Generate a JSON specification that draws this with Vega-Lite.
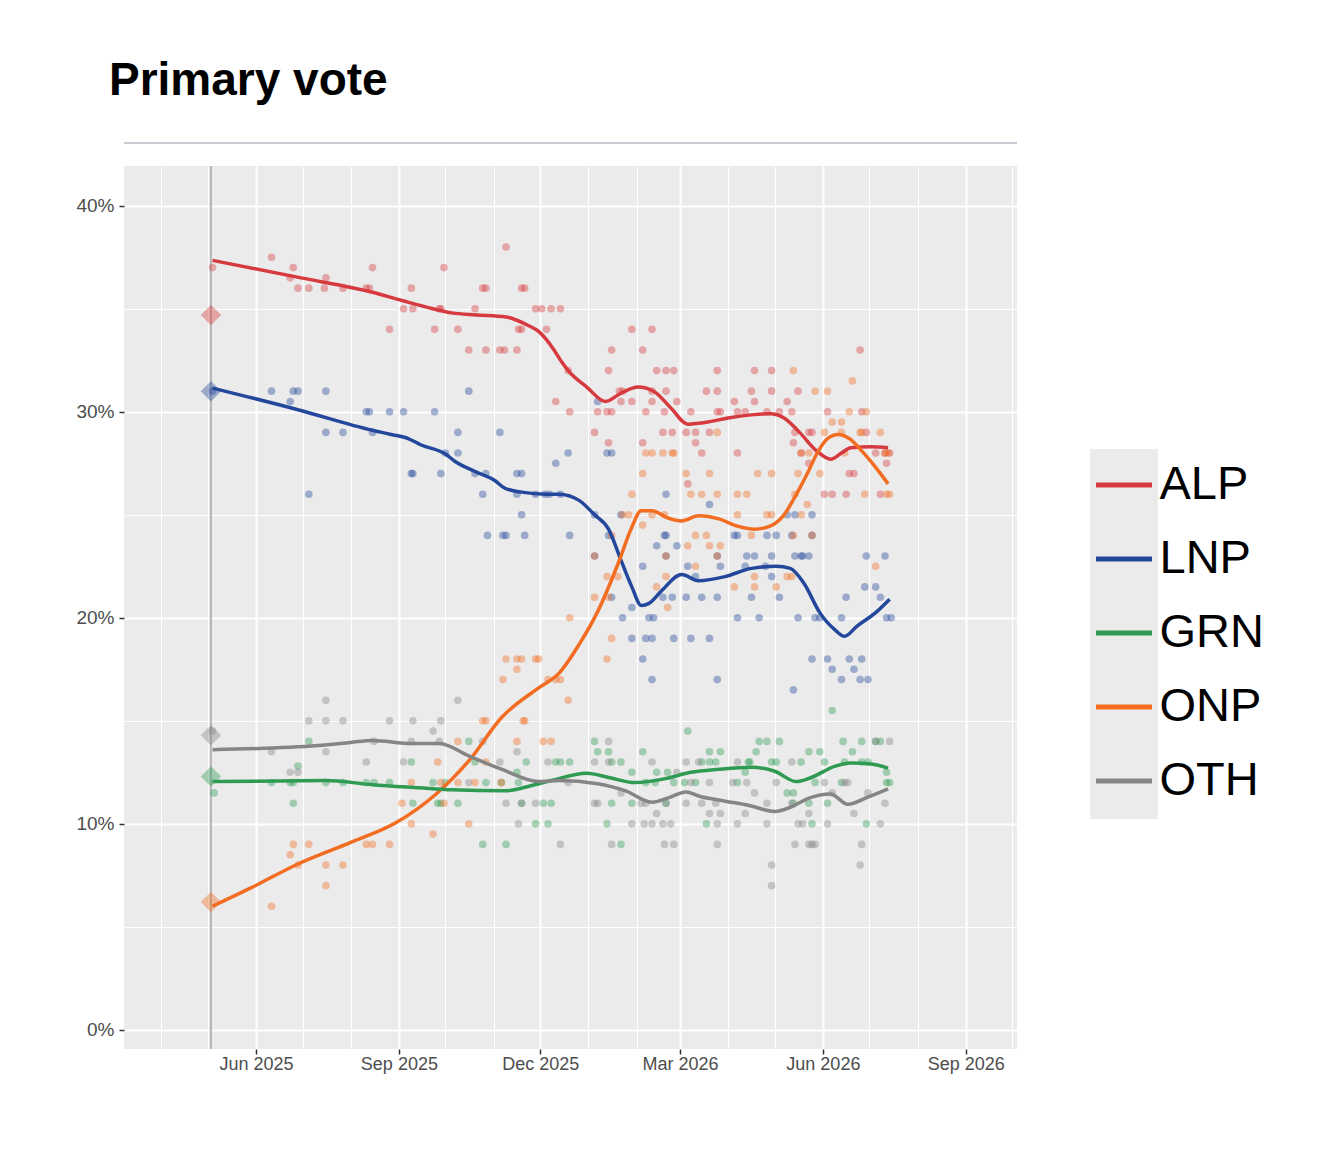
{
  "$schema": "https://vega.github.io/schema/vega-lite/v6.json",
  "padding": {"left": 75, "top": 58, "right": 10, "bottom": 10},
  "background": "#ffffff",
  "title": {"text": "Primary vote", "anchor": "start", "font": "Liberation Sans", "fontSize": 46, "fontWeight": "bold", "color": "#000000", "offset": 37, "dx": 33, "baseline": "top"},
  "spacing": 21,
  "align": "none",
  "datasets": {
    "polls": [
      {"date":"2025-05-04","party":"ALP","pct":37},{"date":"2025-06-11","party":"ALP","pct":37.5},{"date":"2025-06-25","party":"ALP","pct":37},{"date":"2025-06-23","party":"ALP","pct":36.5},{"date":"2025-06-28","party":"ALP","pct":36},{"date":"2025-07-05","party":"ALP","pct":36},{"date":"2025-07-16","party":"ALP","pct":36.5},{"date":"2025-07-15","party":"ALP","pct":36},{"date":"2025-07-27","party":"ALP","pct":36},{"date":"2025-08-11","party":"ALP","pct":36},{"date":"2025-08-13","party":"ALP","pct":36},{"date":"2025-08-15","party":"ALP","pct":37},{"date":"2025-08-26","party":"ALP","pct":34},{"date":"2025-09-04","party":"ALP","pct":35},{"date":"2025-09-09","party":"ALP","pct":36},{"date":"2025-09-10","party":"ALP","pct":35},{"date":"2025-09-24","party":"ALP","pct":34},{"date":"2025-09-27","party":"ALP","pct":35},{"date":"2025-09-28","party":"ALP","pct":35},{"date":"2025-09-30","party":"ALP","pct":37},{"date":"2025-10-09","party":"ALP","pct":34},{"date":"2025-10-16","party":"ALP","pct":33},{"date":"2025-10-20","party":"ALP","pct":35},{"date":"2025-10-25","party":"ALP","pct":36},{"date":"2025-10-27","party":"ALP","pct":36},{"date":"2025-10-27","party":"ALP","pct":33},{"date":"2025-11-05","party":"ALP","pct":33},{"date":"2025-11-08","party":"ALP","pct":33},{"date":"2025-11-09","party":"ALP","pct":38},{"date":"2025-11-16","party":"ALP","pct":33},{"date":"2025-11-17","party":"ALP","pct":34},{"date":"2025-11-19","party":"ALP","pct":34},{"date":"2025-11-19","party":"ALP","pct":36},{"date":"2025-11-21","party":"ALP","pct":36},{"date":"2025-11-28","party":"ALP","pct":35},{"date":"2025-12-02","party":"ALP","pct":35},{"date":"2025-12-08","party":"ALP","pct":35},{"date":"2025-12-14","party":"ALP","pct":35},{"date":"2025-12-05","party":"ALP","pct":34},{"date":"2025-12-11","party":"ALP","pct":30.5},{"date":"2025-12-19","party":"ALP","pct":32},{"date":"2025-12-20","party":"ALP","pct":30},
      {"date":"2026-01-29","party":"ALP","pct":34},{"date":"2026-02-11","party":"ALP","pct":34},{"date":"2026-01-16","party":"ALP","pct":33},{"date":"2026-02-05","party":"ALP","pct":33},
      {"date":"2026-01-14","party":"ALP","pct":32},{"date":"2026-02-14","party":"ALP","pct":32},{"date":"2026-02-20","party":"ALP","pct":32},{"date":"2026-02-25","party":"ALP","pct":32},{"date":"2026-03-25","party":"ALP","pct":32},{"date":"2026-04-18","party":"ALP","pct":32},{"date":"2026-04-29","party":"ALP","pct":32},{"date":"2026-06-25","party":"ALP","pct":33},
      {"date":"2026-01-21","party":"ALP","pct":31},{"date":"2026-01-23","party":"ALP","pct":31},{"date":"2026-02-11","party":"ALP","pct":31},{"date":"2026-02-20","party":"ALP","pct":31},{"date":"2026-03-18","party":"ALP","pct":31},{"date":"2026-03-25","party":"ALP","pct":31},{"date":"2026-04-16","party":"ALP","pct":31},{"date":"2026-04-29","party":"ALP","pct":31},{"date":"2026-05-16","party":"ALP","pct":31},
      {"date":"2026-01-22","party":"ALP","pct":30.5},{"date":"2026-01-29","party":"ALP","pct":30.5},{"date":"2026-02-11","party":"ALP","pct":30.5},{"date":"2026-02-27","party":"ALP","pct":30.5},{"date":"2026-04-05","party":"ALP","pct":30.5},{"date":"2026-04-18","party":"ALP","pct":30.5},{"date":"2026-05-09","party":"ALP","pct":30.5},
      {"date":"2026-01-07","party":"ALP","pct":30},{"date":"2026-01-13","party":"ALP","pct":30},{"date":"2026-01-16","party":"ALP","pct":30},{"date":"2026-02-07","party":"ALP","pct":30},{"date":"2026-02-19","party":"ALP","pct":30},{"date":"2026-03-08","party":"ALP","pct":30},{"date":"2026-03-25","party":"ALP","pct":30},{"date":"2026-03-27","party":"ALP","pct":30},{"date":"2026-04-07","party":"ALP","pct":30},{"date":"2026-04-12","party":"ALP","pct":30},{"date":"2026-04-26","party":"ALP","pct":30},{"date":"2026-05-04","party":"ALP","pct":30},{"date":"2026-05-12","party":"ALP","pct":30},{"date":"2026-06-04","party":"ALP","pct":30},{"date":"2026-06-26","party":"ALP","pct":30},
      {"date":"2026-01-05","party":"ALP","pct":29},{"date":"2026-02-18","party":"ALP","pct":29},{"date":"2026-02-24","party":"ALP","pct":29},{"date":"2026-03-05","party":"ALP","pct":29},{"date":"2026-03-11","party":"ALP","pct":29},{"date":"2026-03-20","party":"ALP","pct":29},{"date":"2026-05-14","party":"ALP","pct":29},{"date":"2026-05-23","party":"ALP","pct":29},{"date":"2026-05-25","party":"ALP","pct":29},{"date":"2026-06-29","party":"ALP","pct":29},
      {"date":"2026-01-14","party":"ALP","pct":28.5},{"date":"2026-02-05","party":"ALP","pct":28.5},{"date":"2026-03-11","party":"ALP","pct":28.5},{"date":"2026-05-13","party":"ALP","pct":28.5},
      {"date":"2026-03-15","party":"ALP","pct":28},{"date":"2026-04-07","party":"ALP","pct":28},{"date":"2026-05-18","party":"ALP","pct":28},{"date":"2026-07-05","party":"ALP","pct":28},{"date":"2026-07-11","party":"ALP","pct":28},{"date":"2026-07-14","party":"ALP","pct":28},
      {"date":"2026-05-23","party":"ALP","pct":27.5},{"date":"2026-07-12","party":"ALP","pct":27.5},{"date":"2026-06-18","party":"ALP","pct":27},{"date":"2026-06-21","party":"ALP","pct":27},{"date":"2026-03-06","party":"ALP","pct":26.5},
      {"date":"2026-06-02","party":"ALP","pct":26},{"date":"2026-06-07","party":"ALP","pct":26},{"date":"2026-06-16","party":"ALP","pct":26},{"date":"2026-07-08","party":"ALP","pct":26},

      {"date":"2025-05-04","party":"LNP","pct":31},{"date":"2025-06-11","party":"LNP","pct":31},{"date":"2025-06-23","party":"LNP","pct":30.5},{"date":"2025-06-25","party":"LNP","pct":31},{"date":"2025-06-28","party":"LNP","pct":31},{"date":"2025-07-16","party":"LNP","pct":31},{"date":"2025-08-11","party":"LNP","pct":30},{"date":"2025-08-13","party":"LNP","pct":30},{"date":"2025-08-26","party":"LNP","pct":30},{"date":"2025-09-04","party":"LNP","pct":30},{"date":"2025-09-24","party":"LNP","pct":30},{"date":"2025-10-16","party":"LNP","pct":31},
      {"date":"2025-07-16","party":"LNP","pct":29},{"date":"2025-07-27","party":"LNP","pct":29},{"date":"2025-08-15","party":"LNP","pct":29},{"date":"2025-10-09","party":"LNP","pct":29},{"date":"2025-11-05","party":"LNP","pct":29},{"date":"2025-10-01","party":"LNP","pct":28},{"date":"2025-10-09","party":"LNP","pct":28},
      {"date":"2025-09-09","party":"LNP","pct":27},{"date":"2025-09-10","party":"LNP","pct":27},{"date":"2025-09-28","party":"LNP","pct":27},{"date":"2025-10-20","party":"LNP","pct":27},{"date":"2025-10-27","party":"LNP","pct":27},{"date":"2025-11-16","party":"LNP","pct":27},{"date":"2025-11-19","party":"LNP","pct":27},
      {"date":"2025-07-05","party":"LNP","pct":26},{"date":"2025-10-25","party":"LNP","pct":26},{"date":"2025-11-16","party":"LNP","pct":26},{"date":"2025-11-28","party":"LNP","pct":26},{"date":"2025-12-04","party":"LNP","pct":26},{"date":"2025-12-07","party":"LNP","pct":26},{"date":"2025-12-14","party":"LNP","pct":26},{"date":"2025-11-19","party":"LNP","pct":25},
      {"date":"2025-10-28","party":"LNP","pct":24},{"date":"2025-11-07","party":"LNP","pct":24},{"date":"2025-11-09","party":"LNP","pct":24},{"date":"2025-11-21","party":"LNP","pct":24},{"date":"2025-12-20","party":"LNP","pct":24},
      {"date":"2025-12-11","party":"LNP","pct":27.5},{"date":"2025-12-19","party":"LNP","pct":28},{"date":"2026-01-13","party":"LNP","pct":28},{"date":"2026-01-16","party":"LNP","pct":28},{"date":"2026-01-07","party":"LNP","pct":30.5},{"date":"2026-01-05","party":"LNP","pct":25},{"date":"2026-02-20","party":"LNP","pct":26},{"date":"2026-03-20","party":"LNP","pct":25.5},
      {"date":"2026-01-22","party":"LNP","pct":25},{"date":"2026-05-09","party":"LNP","pct":25},{"date":"2026-05-14","party":"LNP","pct":25},{"date":"2026-05-25","party":"LNP","pct":25},
      {"date":"2026-01-14","party":"LNP","pct":24},{"date":"2026-02-19","party":"LNP","pct":24},{"date":"2026-02-20","party":"LNP","pct":24},{"date":"2026-04-05","party":"LNP","pct":24},{"date":"2026-04-07","party":"LNP","pct":24},{"date":"2026-04-26","party":"LNP","pct":24},{"date":"2026-05-02","party":"LNP","pct":24},{"date":"2026-05-12","party":"LNP","pct":24},{"date":"2026-05-25","party":"LNP","pct":24},
      {"date":"2026-02-14","party":"LNP","pct":23.5},{"date":"2026-02-27","party":"LNP","pct":23.5},
      {"date":"2026-01-05","party":"LNP","pct":23},{"date":"2026-02-20","party":"LNP","pct":23},{"date":"2026-03-25","party":"LNP","pct":23},{"date":"2026-04-13","party":"LNP","pct":23},{"date":"2026-04-18","party":"LNP","pct":23},{"date":"2026-04-29","party":"LNP","pct":23},{"date":"2026-05-14","party":"LNP","pct":23},{"date":"2026-05-18","party":"LNP","pct":23},{"date":"2026-05-19","party":"LNP","pct":23},{"date":"2026-05-23","party":"LNP","pct":23},{"date":"2026-06-29","party":"LNP","pct":23},{"date":"2026-07-11","party":"LNP","pct":23},
      {"date":"2026-02-05","party":"LNP","pct":22.5},{"date":"2026-03-06","party":"LNP","pct":22.5},{"date":"2026-03-27","party":"LNP","pct":22.5},{"date":"2026-04-12","party":"LNP","pct":22.5},{"date":"2026-04-25","party":"LNP","pct":22.5},
      {"date":"2026-03-11","party":"LNP","pct":22},{"date":"2026-04-29","party":"LNP","pct":22},{"date":"2026-06-28","party":"LNP","pct":21.5},{"date":"2026-07-05","party":"LNP","pct":21.5},
      {"date":"2026-01-16","party":"LNP","pct":21},{"date":"2026-02-18","party":"LNP","pct":21},{"date":"2026-02-24","party":"LNP","pct":21},{"date":"2026-03-05","party":"LNP","pct":21},{"date":"2026-03-15","party":"LNP","pct":21},{"date":"2026-03-25","party":"LNP","pct":21},{"date":"2026-04-16","party":"LNP","pct":21},{"date":"2026-05-04","party":"LNP","pct":21},{"date":"2026-06-16","party":"LNP","pct":21},{"date":"2026-07-08","party":"LNP","pct":21},
      {"date":"2026-01-29","party":"LNP","pct":20.5},
      {"date":"2026-01-23","party":"LNP","pct":20},{"date":"2026-02-09","party":"LNP","pct":20},{"date":"2026-02-12","party":"LNP","pct":20},{"date":"2026-04-07","party":"LNP","pct":20},{"date":"2026-04-21","party":"LNP","pct":20},{"date":"2026-05-16","party":"LNP","pct":20},{"date":"2026-05-27","party":"LNP","pct":20},{"date":"2026-05-30","party":"LNP","pct":20},{"date":"2026-06-13","party":"LNP","pct":20},{"date":"2026-07-12","party":"LNP","pct":20},{"date":"2026-07-15","party":"LNP","pct":20},
      {"date":"2026-01-29","party":"LNP","pct":19},{"date":"2026-02-07","party":"LNP","pct":19},{"date":"2026-02-11","party":"LNP","pct":19},{"date":"2026-02-25","party":"LNP","pct":19},{"date":"2026-03-08","party":"LNP","pct":19},{"date":"2026-03-20","party":"LNP","pct":19},
      {"date":"2026-02-05","party":"LNP","pct":18},{"date":"2026-05-25","party":"LNP","pct":18},{"date":"2026-06-04","party":"LNP","pct":18},{"date":"2026-06-18","party":"LNP","pct":18},{"date":"2026-06-26","party":"LNP","pct":18},
      {"date":"2026-06-07","party":"LNP","pct":17.5},{"date":"2026-06-21","party":"LNP","pct":17.5},
      {"date":"2026-02-11","party":"LNP","pct":17},{"date":"2026-03-25","party":"LNP","pct":17},{"date":"2026-06-13","party":"LNP","pct":17},{"date":"2026-06-25","party":"LNP","pct":17},{"date":"2026-06-30","party":"LNP","pct":17},{"date":"2026-05-13","party":"LNP","pct":16.5},

      {"date":"2025-05-05","party":"GRN","pct":11.5},{"date":"2025-07-05","party":"GRN","pct":14},{"date":"2025-06-28","party":"GRN","pct":12.8},
      {"date":"2025-06-11","party":"GRN","pct":12},{"date":"2025-06-23","party":"GRN","pct":12},{"date":"2025-06-25","party":"GRN","pct":12},{"date":"2025-07-16","party":"GRN","pct":12},{"date":"2025-07-27","party":"GRN","pct":12},{"date":"2025-08-11","party":"GRN","pct":12},{"date":"2025-08-16","party":"GRN","pct":12},{"date":"2025-08-26","party":"GRN","pct":12},{"date":"2025-09-23","party":"GRN","pct":12},{"date":"2025-10-01","party":"GRN","pct":12},{"date":"2025-10-27","party":"GRN","pct":12},{"date":"2025-11-06","party":"GRN","pct":12},{"date":"2025-11-17","party":"GRN","pct":12},
      {"date":"2025-06-25","party":"GRN","pct":11},{"date":"2025-09-09","party":"GRN","pct":13},
      {"date":"2025-09-10","party":"GRN","pct":11},{"date":"2025-09-26","party":"GRN","pct":11},{"date":"2025-09-28","party":"GRN","pct":11},{"date":"2025-10-09","party":"GRN","pct":11},{"date":"2025-11-19","party":"GRN","pct":11},{"date":"2025-12-03","party":"GRN","pct":11},{"date":"2025-12-08","party":"GRN","pct":11},
      {"date":"2025-10-16","party":"GRN","pct":14},{"date":"2025-10-20","party":"GRN","pct":13},{"date":"2025-11-22","party":"GRN","pct":13},{"date":"2025-11-16","party":"GRN","pct":12.5},{"date":"2025-11-28","party":"GRN","pct":10},{"date":"2025-12-06","party":"GRN","pct":10},{"date":"2025-10-25","party":"GRN","pct":9},{"date":"2025-11-09","party":"GRN","pct":9},
      {"date":"2025-12-11","party":"GRN","pct":13},{"date":"2025-12-14","party":"GRN","pct":13},{"date":"2025-12-20","party":"GRN","pct":13},
      {"date":"2026-01-05","party":"GRN","pct":14},{"date":"2026-04-21","party":"GRN","pct":14},{"date":"2026-04-26","party":"GRN","pct":14},{"date":"2026-05-04","party":"GRN","pct":14},{"date":"2026-06-14","party":"GRN","pct":14},{"date":"2026-06-26","party":"GRN","pct":14},{"date":"2026-07-05","party":"GRN","pct":14},{"date":"2026-07-08","party":"GRN","pct":14},
      {"date":"2026-01-07","party":"GRN","pct":13.5},{"date":"2026-01-14","party":"GRN","pct":13.5},{"date":"2026-02-05","party":"GRN","pct":13.5},{"date":"2026-03-20","party":"GRN","pct":13.5},{"date":"2026-03-27","party":"GRN","pct":13.5},{"date":"2026-04-19","party":"GRN","pct":13.5},{"date":"2026-05-23","party":"GRN","pct":13.5},{"date":"2026-05-30","party":"GRN","pct":13.5},{"date":"2026-06-20","party":"GRN","pct":13.5},
      {"date":"2026-01-16","party":"GRN","pct":13},{"date":"2026-01-22","party":"GRN","pct":13},{"date":"2026-03-15","party":"GRN","pct":13},{"date":"2026-03-20","party":"GRN","pct":13},{"date":"2026-03-24","party":"GRN","pct":13},{"date":"2026-04-14","party":"GRN","pct":13},{"date":"2026-04-15","party":"GRN","pct":13},{"date":"2026-04-29","party":"GRN","pct":13},{"date":"2026-05-02","party":"GRN","pct":13},{"date":"2026-05-18","party":"GRN","pct":13},{"date":"2026-06-02","party":"GRN","pct":13},{"date":"2026-06-15","party":"GRN","pct":13},{"date":"2026-06-26","party":"GRN","pct":13},{"date":"2026-06-30","party":"GRN","pct":13},
      {"date":"2026-01-29","party":"GRN","pct":12.5},{"date":"2026-02-14","party":"GRN","pct":12.5},{"date":"2026-02-21","party":"GRN","pct":12.5},{"date":"2026-04-12","party":"GRN","pct":12.5},{"date":"2026-07-12","party":"GRN","pct":12.5},
      {"date":"2026-03-06","party":"GRN","pct":14.5},{"date":"2026-06-07","party":"GRN","pct":15.5},
      {"date":"2026-02-07","party":"GRN","pct":12},{"date":"2026-02-13","party":"GRN","pct":12},{"date":"2026-02-25","party":"GRN","pct":12},{"date":"2026-03-04","party":"GRN","pct":12},{"date":"2026-03-11","party":"GRN","pct":12},{"date":"2026-04-07","party":"GRN","pct":12},{"date":"2026-05-27","party":"GRN","pct":12},{"date":"2026-06-13","party":"GRN","pct":12},{"date":"2026-07-12","party":"GRN","pct":12},{"date":"2026-07-14","party":"GRN","pct":12},
      {"date":"2026-01-16","party":"GRN","pct":11},{"date":"2026-01-29","party":"GRN","pct":11},{"date":"2026-02-20","party":"GRN","pct":11},{"date":"2026-05-13","party":"GRN","pct":11},{"date":"2026-05-23","party":"GRN","pct":11},{"date":"2026-06-04","party":"GRN","pct":11},
      {"date":"2026-05-09","party":"GRN","pct":11.5},{"date":"2026-05-13","party":"GRN","pct":11.5},
      {"date":"2026-01-13","party":"GRN","pct":10},{"date":"2026-03-18","party":"GRN","pct":10},{"date":"2026-05-25","party":"GRN","pct":10},{"date":"2026-06-29","party":"GRN","pct":10},{"date":"2026-01-22","party":"GRN","pct":9},

      {"date":"2025-05-04","party":"OTH","pct":14.5},{"date":"2025-07-16","party":"OTH","pct":16},{"date":"2025-10-09","party":"OTH","pct":16},
      {"date":"2025-07-05","party":"OTH","pct":15},{"date":"2025-07-16","party":"OTH","pct":15},{"date":"2025-07-27","party":"OTH","pct":15},{"date":"2025-08-26","party":"OTH","pct":15},{"date":"2025-09-10","party":"OTH","pct":15},{"date":"2025-09-28","party":"OTH","pct":15},
      {"date":"2025-09-23","party":"OTH","pct":14.5},{"date":"2025-08-16","party":"OTH","pct":14},{"date":"2025-09-09","party":"OTH","pct":14},{"date":"2025-09-27","party":"OTH","pct":14},{"date":"2025-10-25","party":"OTH","pct":14},
      {"date":"2025-06-11","party":"OTH","pct":13.5},{"date":"2025-07-16","party":"OTH","pct":13.5},{"date":"2025-11-16","party":"OTH","pct":13.5},
      {"date":"2025-08-11","party":"OTH","pct":13},{"date":"2025-09-04","party":"OTH","pct":13},{"date":"2025-11-05","party":"OTH","pct":13},{"date":"2025-12-06","party":"OTH","pct":13},
      {"date":"2025-06-23","party":"OTH","pct":12.5},{"date":"2025-06-28","party":"OTH","pct":12.5},{"date":"2025-10-16","party":"OTH","pct":12},{"date":"2025-12-19","party":"OTH","pct":12},
      {"date":"2025-11-09","party":"OTH","pct":11},{"date":"2025-11-19","party":"OTH","pct":11},{"date":"2025-11-28","party":"OTH","pct":11},{"date":"2025-11-17","party":"OTH","pct":10},{"date":"2025-12-14","party":"OTH","pct":9},
      {"date":"2026-01-14","party":"OTH","pct":14},{"date":"2026-07-05","party":"OTH","pct":14},{"date":"2026-07-14","party":"OTH","pct":14},
      {"date":"2026-01-05","party":"OTH","pct":13},{"date":"2026-01-14","party":"OTH","pct":13},{"date":"2026-02-11","party":"OTH","pct":13},{"date":"2026-03-05","party":"OTH","pct":13},{"date":"2026-03-13","party":"OTH","pct":13},{"date":"2026-04-07","party":"OTH","pct":13},{"date":"2026-05-12","party":"OTH","pct":13},
      {"date":"2026-02-27","party":"OTH","pct":12.5},
      {"date":"2026-03-08","party":"OTH","pct":12},{"date":"2026-03-20","party":"OTH","pct":12},{"date":"2026-04-04","party":"OTH","pct":12},{"date":"2026-04-13","party":"OTH","pct":12},{"date":"2026-05-02","party":"OTH","pct":12},{"date":"2026-06-02","party":"OTH","pct":12},{"date":"2026-06-15","party":"OTH","pct":12},{"date":"2026-06-17","party":"OTH","pct":12},
      {"date":"2026-01-22","party":"OTH","pct":11.5},{"date":"2026-04-18","party":"OTH","pct":11.5},{"date":"2026-06-07","party":"OTH","pct":11.5},{"date":"2026-06-30","party":"OTH","pct":11.5},
      {"date":"2026-01-05","party":"OTH","pct":11},{"date":"2026-01-07","party":"OTH","pct":11},{"date":"2026-02-04","party":"OTH","pct":11},{"date":"2026-02-07","party":"OTH","pct":11},{"date":"2026-02-20","party":"OTH","pct":11},{"date":"2026-03-05","party":"OTH","pct":11},{"date":"2026-03-15","party":"OTH","pct":11},{"date":"2026-03-24","party":"OTH","pct":11},{"date":"2026-04-26","party":"OTH","pct":11},{"date":"2026-05-12","party":"OTH","pct":11},{"date":"2026-07-11","party":"OTH","pct":11},
      {"date":"2026-02-14","party":"OTH","pct":10.5},{"date":"2026-03-20","party":"OTH","pct":10.5},{"date":"2026-03-27","party":"OTH","pct":10.5},{"date":"2026-04-12","party":"OTH","pct":10.5},{"date":"2026-05-23","party":"OTH","pct":10.5},{"date":"2026-06-21","party":"OTH","pct":10.5},
      {"date":"2026-01-29","party":"OTH","pct":10},{"date":"2026-02-06","party":"OTH","pct":10},{"date":"2026-02-11","party":"OTH","pct":10},{"date":"2026-02-18","party":"OTH","pct":10},{"date":"2026-02-23","party":"OTH","pct":10},{"date":"2026-03-25","party":"OTH","pct":10},{"date":"2026-04-07","party":"OTH","pct":10},{"date":"2026-04-26","party":"OTH","pct":10},{"date":"2026-05-16","party":"OTH","pct":10},{"date":"2026-05-19","party":"OTH","pct":10},{"date":"2026-06-04","party":"OTH","pct":10},{"date":"2026-07-08","party":"OTH","pct":10},
      {"date":"2026-01-16","party":"OTH","pct":9},{"date":"2026-02-19","party":"OTH","pct":9},{"date":"2026-02-25","party":"OTH","pct":9},{"date":"2026-03-25","party":"OTH","pct":9},{"date":"2026-05-14","party":"OTH","pct":9},{"date":"2026-05-23","party":"OTH","pct":9},{"date":"2026-05-25","party":"OTH","pct":9},{"date":"2026-05-27","party":"OTH","pct":9},{"date":"2026-06-26","party":"OTH","pct":9},
      {"date":"2026-04-29","party":"OTH","pct":8},{"date":"2026-06-25","party":"OTH","pct":8},{"date":"2026-04-29","party":"OTH","pct":7},

      {"date":"2025-06-11","party":"ONP","pct":6},{"date":"2025-06-25","party":"ONP","pct":9},{"date":"2025-07-05","party":"ONP","pct":9},{"date":"2025-06-23","party":"ONP","pct":8.5},{"date":"2025-06-28","party":"ONP","pct":8},{"date":"2025-07-16","party":"ONP","pct":8},{"date":"2025-07-27","party":"ONP","pct":8},{"date":"2025-07-16","party":"ONP","pct":7},
      {"date":"2025-08-11","party":"ONP","pct":9},{"date":"2025-08-15","party":"ONP","pct":9},{"date":"2025-08-26","party":"ONP","pct":9},{"date":"2025-09-09","party":"ONP","pct":10},{"date":"2025-10-16","party":"ONP","pct":10},{"date":"2025-09-23","party":"ONP","pct":9.5},
      {"date":"2025-09-09","party":"ONP","pct":12},{"date":"2025-09-28","party":"ONP","pct":12},{"date":"2025-10-09","party":"ONP","pct":12},{"date":"2025-10-20","party":"ONP","pct":12},{"date":"2025-11-06","party":"ONP","pct":12},
      {"date":"2025-09-26","party":"ONP","pct":13},{"date":"2025-10-27","party":"ONP","pct":13},{"date":"2025-09-03","party":"ONP","pct":11},{"date":"2025-09-30","party":"ONP","pct":11},
      {"date":"2025-10-09","party":"ONP","pct":14},{"date":"2025-11-16","party":"ONP","pct":14},{"date":"2025-12-03","party":"ONP","pct":14},{"date":"2025-12-08","party":"ONP","pct":14},
      {"date":"2025-10-25","party":"ONP","pct":15},{"date":"2025-10-27","party":"ONP","pct":15},{"date":"2025-11-20","party":"ONP","pct":15},{"date":"2025-11-21","party":"ONP","pct":15},
      {"date":"2025-11-07","party":"ONP","pct":17},{"date":"2025-12-06","party":"ONP","pct":17},{"date":"2025-12-11","party":"ONP","pct":17},{"date":"2025-12-14","party":"ONP","pct":17},
      {"date":"2025-11-09","party":"ONP","pct":18},{"date":"2025-11-16","party":"ONP","pct":18},{"date":"2025-11-19","party":"ONP","pct":18},{"date":"2025-11-28","party":"ONP","pct":18},{"date":"2025-11-30","party":"ONP","pct":18},
      {"date":"2025-11-16","party":"ONP","pct":17.5},{"date":"2025-12-19","party":"ONP","pct":16},{"date":"2025-12-20","party":"ONP","pct":20},
      {"date":"2026-05-13","party":"ONP","pct":32},{"date":"2026-06-20","party":"ONP","pct":31.5},{"date":"2026-05-27","party":"ONP","pct":31},{"date":"2026-06-04","party":"ONP","pct":31},{"date":"2026-06-18","party":"ONP","pct":30},{"date":"2026-06-29","party":"ONP","pct":30},{"date":"2026-06-07","party":"ONP","pct":29.5},{"date":"2026-06-13","party":"ONP","pct":29.5},
      {"date":"2026-03-25","party":"ONP","pct":29},{"date":"2026-06-02","party":"ONP","pct":29},{"date":"2026-06-13","party":"ONP","pct":29},{"date":"2026-06-25","party":"ONP","pct":29},{"date":"2026-06-26","party":"ONP","pct":29},{"date":"2026-07-08","party":"ONP","pct":29},
      {"date":"2026-02-07","party":"ONP","pct":28},{"date":"2026-02-11","party":"ONP","pct":28},{"date":"2026-02-18","party":"ONP","pct":28},{"date":"2026-02-24","party":"ONP","pct":28},{"date":"2026-02-25","party":"ONP","pct":28},{"date":"2026-05-18","party":"ONP","pct":28},{"date":"2026-05-23","party":"ONP","pct":28},{"date":"2026-06-15","party":"ONP","pct":28},{"date":"2026-07-11","party":"ONP","pct":28},{"date":"2026-07-13","party":"ONP","pct":28},
      {"date":"2026-02-05","party":"ONP","pct":27},{"date":"2026-03-05","party":"ONP","pct":27},{"date":"2026-03-20","party":"ONP","pct":27},{"date":"2026-04-20","party":"ONP","pct":27},{"date":"2026-04-29","party":"ONP","pct":27},{"date":"2026-05-16","party":"ONP","pct":27},{"date":"2026-05-30","party":"ONP","pct":27},
      {"date":"2026-01-29","party":"ONP","pct":26},{"date":"2026-03-08","party":"ONP","pct":26},{"date":"2026-03-15","party":"ONP","pct":26},{"date":"2026-03-25","party":"ONP","pct":26},{"date":"2026-04-07","party":"ONP","pct":26},{"date":"2026-04-13","party":"ONP","pct":26},{"date":"2026-05-14","party":"ONP","pct":26},{"date":"2026-06-28","party":"ONP","pct":26},{"date":"2026-07-12","party":"ONP","pct":26},{"date":"2026-07-14","party":"ONP","pct":26},
      {"date":"2026-01-23","party":"ONP","pct":25},{"date":"2026-01-27","party":"ONP","pct":25},{"date":"2026-02-11","party":"ONP","pct":25},{"date":"2026-02-19","party":"ONP","pct":25},{"date":"2026-04-07","party":"ONP","pct":25},{"date":"2026-04-26","party":"ONP","pct":25},{"date":"2026-04-29","party":"ONP","pct":25},{"date":"2026-05-18","party":"ONP","pct":25},
      {"date":"2026-02-05","party":"ONP","pct":24.5},{"date":"2026-05-22","party":"ONP","pct":25.5},
      {"date":"2026-01-16","party":"ONP","pct":24},{"date":"2026-03-11","party":"ONP","pct":24},{"date":"2026-03-18","party":"ONP","pct":24},{"date":"2026-04-16","party":"ONP","pct":24},{"date":"2026-05-13","party":"ONP","pct":24},{"date":"2026-05-25","party":"ONP","pct":24},
      {"date":"2026-03-06","party":"ONP","pct":23.5},{"date":"2026-03-20","party":"ONP","pct":23.5},{"date":"2026-03-27","party":"ONP","pct":23.5},
      {"date":"2026-01-05","party":"ONP","pct":23},{"date":"2026-02-20","party":"ONP","pct":23},{"date":"2026-03-25","party":"ONP","pct":23},{"date":"2026-03-11","party":"ONP","pct":22.5},{"date":"2026-07-05","party":"ONP","pct":22.5},
      {"date":"2026-01-13","party":"ONP","pct":22},{"date":"2026-01-20","party":"ONP","pct":22},{"date":"2026-02-20","party":"ONP","pct":22},{"date":"2026-04-18","party":"ONP","pct":22},{"date":"2026-05-09","party":"ONP","pct":22},{"date":"2026-05-12","party":"ONP","pct":22},
      {"date":"2026-02-14","party":"ONP","pct":21.5},{"date":"2026-04-05","party":"ONP","pct":21.5},{"date":"2026-04-18","party":"ONP","pct":21.5},{"date":"2026-05-02","party":"ONP","pct":21.5},
      {"date":"2026-01-05","party":"ONP","pct":21},{"date":"2026-01-14","party":"ONP","pct":21},{"date":"2026-02-21","party":"ONP","pct":20.5},{"date":"2026-01-16","party":"ONP","pct":19},{"date":"2026-01-13","party":"ONP","pct":18}
    ],
    "trend": [
      {"date":"2025-05-04","party":"ALP","pct":37.35},{"date":"2025-06-30","party":"ALP","pct":36.5},{"date":"2025-08-15","party":"ALP","pct":35.8},{"date":"2025-09-03","party":"ALP","pct":35.4},{"date":"2025-09-23","party":"ALP","pct":35.0},{"date":"2025-10-05","party":"ALP","pct":34.8},{"date":"2025-10-21","party":"ALP","pct":34.7},{"date":"2025-11-09","party":"ALP","pct":34.6},{"date":"2025-11-23","party":"ALP","pct":34.2},{"date":"2025-11-30","party":"ALP","pct":33.9},{"date":"2025-12-05","party":"ALP","pct":33.5},{"date":"2025-12-09","party":"ALP","pct":33.1},{"date":"2025-12-15","party":"ALP","pct":32.4},{"date":"2025-12-19","party":"ALP","pct":32.0},{"date":"2025-12-31","party":"ALP","pct":31.2},{"date":"2026-01-12","party":"ALP","pct":30.5},{"date":"2026-01-22","party":"ALP","pct":30.9},{"date":"2026-02-02","party":"ALP","pct":31.2},{"date":"2026-02-12","party":"ALP","pct":31.0},{"date":"2026-02-23","party":"ALP","pct":30.2},{"date":"2026-03-06","party":"ALP","pct":29.4},{"date":"2026-03-19","party":"ALP","pct":29.5},{"date":"2026-04-01","party":"ALP","pct":29.7},{"date":"2026-04-16","party":"ALP","pct":29.85},{"date":"2026-04-28","party":"ALP","pct":29.9},{"date":"2026-05-07","party":"ALP","pct":29.7},{"date":"2026-05-17","party":"ALP","pct":29.0},{"date":"2026-05-28","party":"ALP","pct":28.1},{"date":"2026-06-06","party":"ALP","pct":27.7},{"date":"2026-06-13","party":"ALP","pct":28.0},{"date":"2026-06-19","party":"ALP","pct":28.25},{"date":"2026-07-02","party":"ALP","pct":28.3},{"date":"2026-07-13","party":"ALP","pct":28.25},
      {"date":"2025-05-04","party":"LNP","pct":31.15},{"date":"2025-06-28","party":"LNP","pct":30.1},{"date":"2025-08-15","party":"LNP","pct":29.1},{"date":"2025-08-27","party":"LNP","pct":28.9},{"date":"2025-09-07","party":"LNP","pct":28.7},{"date":"2025-09-15","party":"LNP","pct":28.4},{"date":"2025-10-01","party":"LNP","pct":27.95},{"date":"2025-10-07","party":"LNP","pct":27.6},{"date":"2025-10-20","party":"LNP","pct":27.1},{"date":"2025-11-02","party":"LNP","pct":26.65},{"date":"2025-11-08","party":"LNP","pct":26.3},{"date":"2025-11-19","party":"LNP","pct":26.1},{"date":"2025-12-05","party":"LNP","pct":26.0},{"date":"2025-12-13","party":"LNP","pct":26.0},{"date":"2025-12-26","party":"LNP","pct":25.7},{"date":"2026-01-05","party":"LNP","pct":25.0},{"date":"2026-01-14","party":"LNP","pct":24.3},{"date":"2026-01-22","party":"LNP","pct":22.8},{"date":"2026-01-29","party":"LNP","pct":21.5},{"date":"2026-02-04","party":"LNP","pct":20.6},{"date":"2026-02-09","party":"LNP","pct":20.7},{"date":"2026-02-17","party":"LNP","pct":21.3},{"date":"2026-03-02","party":"LNP","pct":22.1},{"date":"2026-03-13","party":"LNP","pct":21.8},{"date":"2026-03-30","party":"LNP","pct":22.0},{"date":"2026-04-16","party":"LNP","pct":22.4},{"date":"2026-05-02","party":"LNP","pct":22.5},{"date":"2026-05-11","party":"LNP","pct":22.4},{"date":"2026-05-20","party":"LNP","pct":21.65},{"date":"2026-05-30","party":"LNP","pct":20.25},{"date":"2026-06-09","party":"LNP","pct":19.4},{"date":"2026-06-15","party":"LNP","pct":19.1},{"date":"2026-06-23","party":"LNP","pct":19.6},{"date":"2026-07-05","party":"LNP","pct":20.25},{"date":"2026-07-14","party":"LNP","pct":20.9},
      {"date":"2025-05-04","party":"ONP","pct":6.0},{"date":"2025-05-29","party":"ONP","pct":6.9},{"date":"2025-06-28","party":"ONP","pct":8.05},{"date":"2025-08-01","party":"ONP","pct":9.1},{"date":"2025-08-30","party":"ONP","pct":10.05},{"date":"2025-09-25","party":"ONP","pct":11.45},{"date":"2025-10-16","party":"ONP","pct":13.05},{"date":"2025-11-06","party":"ONP","pct":15.15},{"date":"2025-11-30","party":"ONP","pct":16.6},{"date":"2025-12-13","party":"ONP","pct":17.3},{"date":"2025-12-26","party":"ONP","pct":18.7},{"date":"2026-01-07","party":"ONP","pct":20.3},{"date":"2026-01-20","party":"ONP","pct":22.6},{"date":"2026-01-29","party":"ONP","pct":24.4},{"date":"2026-02-04","party":"ONP","pct":25.2},{"date":"2026-02-11","party":"ONP","pct":25.2},{"date":"2026-02-21","party":"ONP","pct":24.85},{"date":"2026-03-02","party":"ONP","pct":24.7},{"date":"2026-03-13","party":"ONP","pct":24.95},{"date":"2026-03-26","party":"ONP","pct":24.8},{"date":"2026-04-07","party":"ONP","pct":24.45},{"date":"2026-04-18","party":"ONP","pct":24.3},{"date":"2026-04-28","party":"ONP","pct":24.45},{"date":"2026-05-07","party":"ONP","pct":25.0},{"date":"2026-05-15","party":"ONP","pct":26.0},{"date":"2026-05-22","party":"ONP","pct":27.0},{"date":"2026-05-28","party":"ONP","pct":27.95},{"date":"2026-06-04","party":"ONP","pct":28.7},{"date":"2026-06-11","party":"ONP","pct":28.9},{"date":"2026-06-18","party":"ONP","pct":28.7},{"date":"2026-06-26","party":"ONP","pct":28.1},{"date":"2026-07-05","party":"ONP","pct":27.3},{"date":"2026-07-13","party":"ONP","pct":26.5},
      {"date":"2025-05-04","party":"GRN","pct":12.05},{"date":"2025-07-16","party":"GRN","pct":12.1},{"date":"2025-08-15","party":"GRN","pct":11.9},{"date":"2025-09-14","party":"GRN","pct":11.75},{"date":"2025-10-05","party":"GRN","pct":11.65},{"date":"2025-11-08","party":"GRN","pct":11.6},{"date":"2025-11-25","party":"GRN","pct":11.85},{"date":"2025-12-08","party":"GRN","pct":12.1},{"date":"2025-12-31","party":"GRN","pct":12.45},{"date":"2026-01-14","party":"GRN","pct":12.25},{"date":"2026-01-31","party":"GRN","pct":12.0},{"date":"2026-02-20","party":"GRN","pct":12.2},{"date":"2026-03-08","party":"GRN","pct":12.5},{"date":"2026-03-26","party":"GRN","pct":12.65},{"date":"2026-04-16","party":"GRN","pct":12.75},{"date":"2026-05-01","party":"GRN","pct":12.55},{"date":"2026-05-15","party":"GRN","pct":12.05},{"date":"2026-05-23","party":"GRN","pct":12.2},{"date":"2026-06-09","party":"GRN","pct":12.8},{"date":"2026-06-19","party":"GRN","pct":12.95},{"date":"2026-07-02","party":"GRN","pct":12.9},{"date":"2026-07-13","party":"GRN","pct":12.7},
      {"date":"2025-05-04","party":"OTH","pct":13.6},{"date":"2025-07-11","party":"OTH","pct":13.8},{"date":"2025-08-01","party":"OTH","pct":13.95},{"date":"2025-08-15","party":"OTH","pct":14.05},{"date":"2025-09-09","party":"OTH","pct":13.9},{"date":"2025-09-27","party":"OTH","pct":13.9},{"date":"2025-10-16","party":"OTH","pct":13.3},{"date":"2025-11-06","party":"OTH","pct":12.65},{"date":"2025-11-30","party":"OTH","pct":12.05},{"date":"2025-12-13","party":"OTH","pct":12.1},{"date":"2026-01-07","party":"OTH","pct":11.95},{"date":"2026-01-25","party":"OTH","pct":11.6},{"date":"2026-02-11","party":"OTH","pct":11.05},{"date":"2026-02-21","party":"OTH","pct":11.25},{"date":"2026-03-05","party":"OTH","pct":11.55},{"date":"2026-03-13","party":"OTH","pct":11.35},{"date":"2026-03-30","party":"OTH","pct":11.1},{"date":"2026-04-14","party":"OTH","pct":10.9},{"date":"2026-05-01","party":"OTH","pct":10.6},{"date":"2026-05-11","party":"OTH","pct":10.8},{"date":"2026-05-23","party":"OTH","pct":11.25},{"date":"2026-06-06","party":"OTH","pct":11.45},{"date":"2026-06-17","party":"OTH","pct":10.95},{"date":"2026-06-30","party":"OTH","pct":11.3},{"date":"2026-07-13","party":"OTH","pct":11.7}
    ],
    "election": [
      {"date":"2025-05-03","party":"ALP","pct":34.7},
      {"date":"2025-05-03","party":"LNP","pct":31.0},
      {"date":"2025-05-03","party":"GRN","pct":12.3},
      {"date":"2025-05-03","party":"ONP","pct":6.2},
      {"date":"2025-05-03","party":"OTH","pct":14.3}
    ],
    "parties": [
      {"party":"ALP"},{"party":"LNP"},{"party":"GRN"},{"party":"ONP"},{"party":"OTH"}
    ]
  },
  "vconcat": [
    {
      "data": {"values": [{}]},
      "width": 893,
      "height": 2,
      "view": {"fill": null, "stroke": null},
      "mark": {"type": "rect", "color": "#c9cad2"},
      "encoding": {}
    },
    {
      "width": 893,
      "height": 883,
      "view": {"fill": "#ebebeb", "stroke": null},
      "layer": [
        {
          "data": {"name": "election"},
          "mark": {"type": "rule", "color": "#b8b8b8", "strokeWidth": 2},
          "encoding": {
            "x": {"field": "date", "type": "temporal"}
          }
        },
        {
          "data": {"name": "polls"},
          "mark": {"type": "circle", "size": 58, "fillOpacity": 0.4},
          "encoding": {
            "x": {
              "field": "date", "type": "temporal",
              "scale": {"type": "utc", "domain": [{"year": 2025, "month": 3, "date": 8, "utc": true}, {"year": 2026, "month": 10, "date": 4, "utc": true}]},
              "axis": {
                "title": null,
                "tickCount": {"interval": "month", "step": 1},
                "labelExpr": "utcmonth(datum.value) % 3 == 2 ? utcFormat(datum.value, '%b %Y') : ''",
                "gridWidth": {"condition": {"test": "utcmonth(datum.value) % 3 == 2", "value": 2}, "value": 1},
                "tickOpacity": {"condition": {"test": "utcmonth(datum.value) % 3 == 2", "value": 1}, "value": 0},
                "labelOverlap": false,
                "labelFlush": false,
                "labelBound": false,
                "labelPadding": 1,
                "labelFontSize": 18
              }
            },
            "y": {
              "field": "pct", "type": "quantitative",
              "scale": {"domain": [-0.93, 41.93], "nice": false, "zero": false},
              "axis": {
                "title": null,
                "values": [0, 5, 10, 15, 20, 25, 30, 35, 40],
                "labelExpr": "datum.value % 10 == 0 ? datum.value + '%' : ''",
                "gridWidth": {"condition": {"test": "datum.value % 10 == 0", "value": 2}, "value": 1},
                "tickOpacity": {"condition": {"test": "datum.value % 10 == 0", "value": 1}, "value": 0},
                "labelOverlap": false,
                "labelFlush": false,
                "labelPadding": 5,
                "labelFontSize": 19
              }
            },
            "color": {"field": "party", "type": "nominal", "scale": {"domain": ["ALP", "LNP", "GRN", "ONP", "OTH"], "range": ["#d63a3e", "#23489b", "#2e9a52", "#f26c22", "#858585"]}}
          }
        },
        {
          "data": {"name": "election"},
          "mark": {"type": "point", "shape": "diamond", "filled": true, "size": 420, "fillOpacity": 0.4},
          "encoding": {
            "x": {"field": "date", "type": "temporal"},
            "y": {"field": "pct", "type": "quantitative"},
            "color": {"field": "party", "type": "nominal", "scale": {"domain": ["ALP", "LNP", "GRN", "ONP", "OTH"], "range": ["#d63a3e", "#23489b", "#2e9a52", "#f26c22", "#858585"]}}
          }
        },
        {
          "data": {"name": "trend"},
          "mark": {"type": "line", "strokeWidth": 3.5, "interpolate": "monotone"},
          "encoding": {
            "x": {"field": "date", "type": "temporal"},
            "y": {"field": "pct", "type": "quantitative"},
            "color": {
              "field": "party", "type": "nominal",
              "scale": {"domain": ["ALP", "LNP", "GRN", "ONP", "OTH"], "range": ["#d63a3e", "#23489b", "#2e9a52", "#f26c22", "#858585"]},
              "legend": {
                "title": null, "orient": "none", "legendX": 969.5, "legendY": 312.5, "direction": "vertical",
                "symbolType": "stroke", "symbolSize": 3136, "symbolStrokeWidth": 5, "symbolOpacity": 1,
                "labelFont": "Liberation Sans", "labelFontSize": 47, "labelColor": "#000000", "labelOffset": 5,
                "rowPadding": 20, "padding": 0, "zindex": 2
              }
            }
          }
        },
        {
          "data": {"name": "parties"},
          "mark": {"type": "point", "filled": true, "color": "#ebebeb", "opacity": 0},
          "encoding": {
            "shape": {
              "field": "party", "type": "nominal",
              "scale": {"range": ["M-1,-1.088H1V1.088H-1Z"]},
              "legend": {
                "title": null, "orient": "none", "legendX": 966, "legendY": 310, "direction": "vertical",
                "symbolSize": 4624, "symbolFillColor": "#ebebeb", "symbolStrokeColor": "#ebebeb", "symbolStrokeWidth": 0,
                "labelExpr": "''", "rowPadding": 0, "padding": 0, "zindex": 1
              }
            }
          }
        }
      ]
    }
  ],
  "config": {
    "font": "Liberation Sans",
    "view": {"fill": "#ebebeb", "stroke": null},
    "axis": {
      "domain": false,
      "gridColor": "#ffffff",
      "labelFont": "Liberation Sans",
      "labelFontSize": 18,
      "labelColor": "#4d4d4d",
      "tickColor": "#333333",
      "tickSize": 5,
      "tickWidth": 1.5,
      "labelPadding": 4
    }
  }
}
